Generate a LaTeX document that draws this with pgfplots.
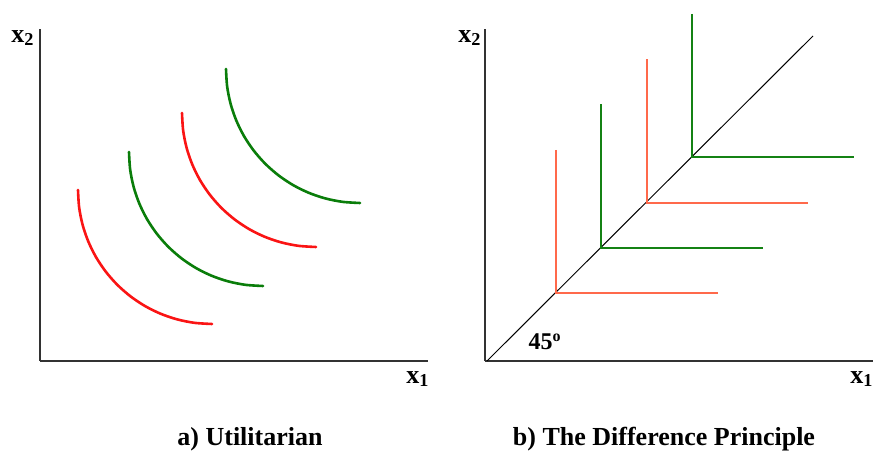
\documentclass[border=0pt]{standalone}
\usepackage{fontspec}
\setmainfont{Liberation Serif}
\usepackage{pgfplots}
\pgfplotsset{compat=1.18}
\definecolor{arcred}{RGB}{250,20,20}
\definecolor{arcgreen}{RGB}{10,125,10}
\definecolor{lred}{RGB}{255,105,75}
\definecolor{lgreen}{RGB}{20,130,20}
\definecolor{axgray}{RGB}{50,50,50}
\pgfplotsset{
  panel/.style={
    x=0.5pt, y=0.5pt, xmin=0, xmax=388, ymin=0, ymax=332,
    axis lines=left, axis line style={-, draw=axgray, line width=0.9pt},
    ticks=none, clip=false, anchor=origin,
  },
  arc/.style={line width=1.3pt, smooth, line cap=round},
  ell/.style={line width=0.9pt},
}
\newcommand{\lab}{\bfseries\fontsize{13}{15}\selectfont}
\begin{document}
\begin{tikzpicture}
\useasboundingbox (0,0) rectangle (437.5pt,226.5pt);
% Panel a
\begin{axis}[panel, at={(20pt,46pt)}]
\addplot[arcred, arc] coordinates {(38,171) (39.15,153.51) (42.57,136.32) (48.2,119.72) (55.95,104) (65.69,89.43) (77.25,76.25) (90.43,64.69) (105,54.95) (120.72,47.2) (137.32,41.57) (154.51,38.15) (172,37)};
\addplot[arcgreen, arc] coordinates {(89,209) (90.15,191.51) (93.57,174.32) (99.2,157.72) (106.95,142) (116.69,127.43) (128.25,114.25) (141.43,102.69) (156,92.95) (171.72,85.2) (188.32,79.57) (205.51,76.15) (223,75)};
\addplot[arcred, arc] coordinates {(142,248) (143.15,230.51) (146.57,213.32) (152.2,196.72) (159.95,181) (169.69,166.43) (181.25,153.25) (194.43,141.69) (209,131.95) (224.72,124.2) (241.32,118.57) (258.51,115.15) (276,114)};
\addplot[arcgreen, arc] coordinates {(186,292) (187.15,274.51) (190.57,257.32) (196.2,240.72) (203.95,225) (213.69,210.43) (225.25,197.25) (238.43,185.69) (253,175.95) (268.72,168.2) (285.32,162.57) (302.51,159.15) (320,158)};
\node[font=\lab] at (axis cs:-17,323) {x\textsubscript{2}};
\node[font=\lab] at (axis cs:378,-18) {x\textsubscript{1}};
\end{axis}
% Panel b
\begin{axis}[panel, at={(242.5pt,46pt)}]
\addplot[black, line width=0.5pt] coordinates {(2,0) (328,325)};
\addplot[lred, ell] coordinates {(70.7,211) (70.7,67.7) (232.7,67.7)};
\addplot[lgreen, ell] coordinates {(116.3,256.7) (116.3,113) (277.7,113)};
\addplot[lred, ell] coordinates {(162,301.7) (162,158.3) (323.3,158.3)};
\addplot[lgreen, ell] coordinates {(207.3,347) (207.3,203.7) (368.7,203.7)};
\node[font=\lab] at (axis cs:-15,323) {x\textsubscript{2}};
\node[font=\lab] at (axis cs:377,-18) {x\textsubscript{1}};
\node[font=\bfseries\large] at (axis cs:60,19) {45\textsuperscript{o}};
\end{axis}
\node[font=\lab] at (125pt,7pt) {a) Utilitarian};
\node[font=\lab] at (332pt,7pt) {b) The Difference Principle};
\end{tikzpicture}
\end{document}
